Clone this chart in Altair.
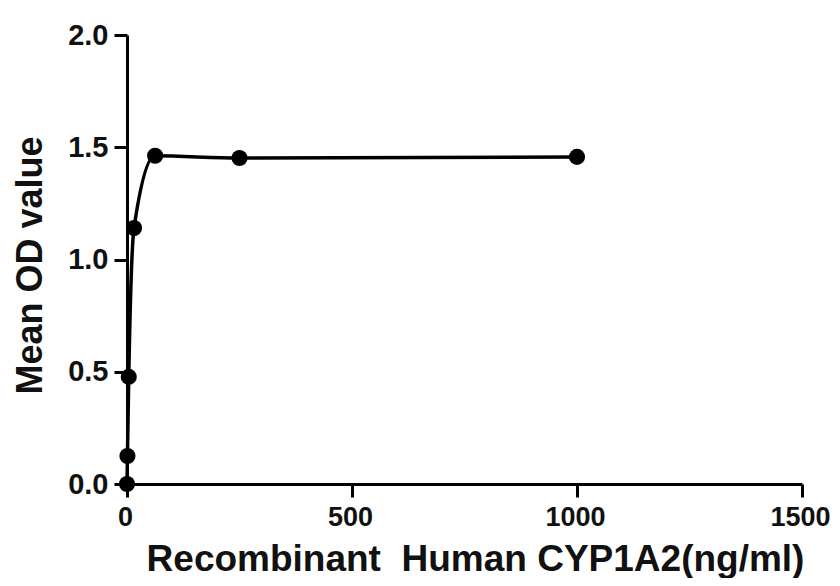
import altair as alt
import pandas as pd

conc = [0, 0.98, 3.9, 15.6, 62.5, 250, 1000]
od = [0.0, 0.125, 0.477, 1.14, 1.462, 1.452, 1.457]

x_ticks = [0, 500, 1000, 1500]
y_ticks = [0.0, 0.5, 1.0, 1.5, 2.0]

df = pd.DataFrame({"conc": conc, "od": od})

FONT = "Liberation Sans"

x_enc = alt.X(
    "conc:Q",
    scale=alt.Scale(domain=[0, 1500], nice=False, zero=True),
    axis=alt.Axis(
        title="Recombinant\u00a0 Human CYP1A2(ng/ml)",
        values=x_ticks,
        format="d",
        grid=False,
        domainColor="black",
        domainWidth=3,
        tickColor="black",
        tickWidth=3,
        tickSize=13,
        labelPadding=7,
        labelOffset=-2,
        labelFont=FONT,
        labelFontSize=27,
        labelFontWeight="bold",
        labelColor="#111",
        labelFlush=False,
        labelOverlap=False,
        titleFont=FONT,
        titleFontSize=37,
        titleFontWeight="bold",
        titleColor="#111",
        titleX=348,
        titleY=86,
        titleBaseline="alphabetic",
        titleAlign="center",
        titleAnchor="start",
    ),
)

y_enc = alt.Y(
    "od:Q",
    scale=alt.Scale(domain=[0, 2.0], nice=False),
    axis=alt.Axis(
        title="Mean OD value",
        values=y_ticks,
        format=".1f",
        grid=False,
        domainColor="black",
        domainWidth=3,
        tickColor="black",
        tickWidth=3,
        tickSize=13,
        labelPadding=6,
        labelFont=FONT,
        labelFontSize=29,
        labelFontWeight="bold",
        labelColor="#111",
        labelFlush=False,
        labelOverlap=False,
        titleFont=FONT,
        titleFontSize=36,
        titleFontWeight="bold",
        titleColor="#111",
        titleX=-97,
        titleY=230,
        titleAngle=270,
        titleBaseline="middle",
        titleAlign="center",
        titleAnchor="start",
    ),
)

base = alt.Chart(df)

line = base.mark_line(color="black", strokeWidth=3.5, interpolate="monotone").encode(
    x=x_enc, y=y_enc
)
pts = base.mark_point(filled=True, color="black", size=260, opacity=1).encode(
    x="conc:Q", y="od:Q"
)

chart = (
    alt.layer(line, pts)
    .properties(
        width=675,
        height=449,
        autosize=alt.AutoSizeParams(type="none"),
        padding={"left": 119, "top": 27, "right": 30, "bottom": 94},
        background="white",
    )
    .configure_view(stroke=None)
)

chart.save("out.html", embed_options={"renderer": "svg", "actions": False})
